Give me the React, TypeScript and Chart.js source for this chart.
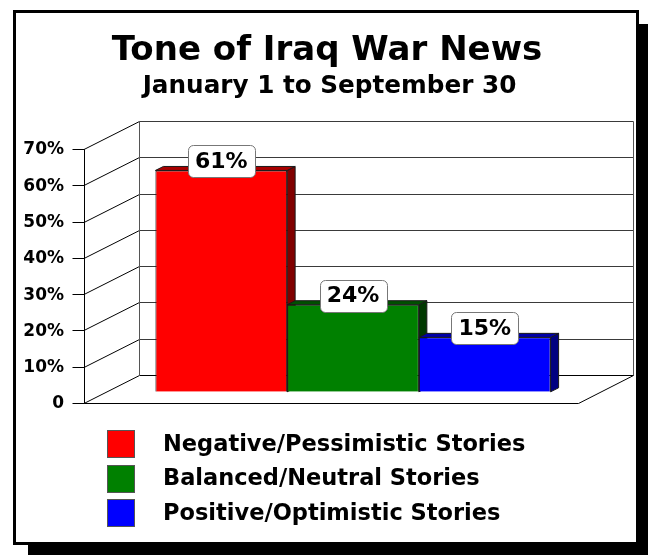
import React, { useEffect, useRef } from 'react';
import { Chart, registerables } from 'chart.js';

Chart.register(...registerables);

// ---- data ----
const categories = ['Tone of coverage'];
const seriesNames = ['Negative/Pessimistic Stories', 'Balanced/Neutral Stories', 'Positive/Optimistic Stories'];
const seriesValues = [61, 24, 15];
const valueLabels = ['61%', '24%', '15%'];
const frontColors = ['#ff0000', '#008000', '#0000ff'];
const sideColors = ['#800000', '#003800', '#000080'];
const topColors = ['#a80000', '#005000', '#0000a8'];
const yTicks = [0, 10, 20, 30, 40, 50, 60, 70];
const yTickLabels = ['0', '10%', '20%', '30%', '40%', '50%', '60%', '70%'];
const titleText = 'Tone of Iraq War News';
const subtitleText = 'January 1 to September 30';

const FONT = '"DejaVu Sans", Verdana, sans-serif';
// 3D geometry
const DX = 55, DY = 28, F = 0.4; // wall depth and bar-plane position
const BDX = 8, BDY = 4; // bar depth

const px = (v: number) => Math.round(v) + 0.5;

const decoPlugin = {
  id: 'deco3d',
  beforeDraw(chart: any) {
    const ctx = chart.ctx as CanvasRenderingContext2D;
    const { left, right } = chart.chartArea;
    const ys = chart.scales.y;
    const W = chart.width, H = chart.height;
    ctx.save();
    ctx.fillStyle = '#ffffff';
    ctx.fillRect(0, 0, W, H);
    // drop shadow
    ctx.fillStyle = '#000000';
    ctx.fillRect(28, 24, W - 28, H - 24);
    // frame
    ctx.fillStyle = '#ffffff';
    ctx.fillRect(13, 10, 626, 535);
    ctx.lineWidth = 3;
    ctx.strokeStyle = '#000000';
    ctx.strokeRect(14.5, 11.5, 623, 532);

    const fx = -F * DX, fy = F * DY;
    const bx = (1 - F) * DX, by = -(1 - F) * DY;
    const y0 = ys.getPixelForValue(yTicks[0]);
    const yMax = ys.getPixelForValue(yTicks[yTicks.length - 1]);

    ctx.lineWidth = 1;
    // back wall grid
    yTicks.forEach((v) => {
      const yy = ys.getPixelForValue(v);
      ctx.strokeStyle = v === 0 ? '#000000' : '#3a3a3a';
      ctx.beginPath();
      ctx.moveTo(px(left + bx), px(yy + by));
      ctx.lineTo(px(right + bx), px(yy + by));
      ctx.stroke();
      // left wall diagonal
      ctx.strokeStyle = '#000000';
      ctx.beginPath();
      ctx.moveTo(left + fx, px(yy + fy));
      ctx.lineTo(px(left + bx), px(yy + by));
      ctx.stroke();
      // tick mark
      ctx.beginPath();
      ctx.moveTo(px(left + fx - 12), px(yy + fy));
      ctx.lineTo(px(left + fx), px(yy + fy));
      ctx.stroke();
    });
    // back wall verticals
    ctx.strokeStyle = '#555555';
    ctx.beginPath();
    ctx.moveTo(px(left + bx), px(y0 + by));
    ctx.lineTo(px(left + bx), px(yMax + by));
    ctx.moveTo(px(right + bx), px(y0 + by));
    ctx.lineTo(px(right + bx), px(yMax + by));
    ctx.stroke();
    // front axis and floor
    ctx.strokeStyle = '#000000';
    ctx.beginPath();
    ctx.moveTo(px(left + fx), px(y0 + fy));
    ctx.lineTo(px(left + fx), px(yMax + fy));
    ctx.moveTo(px(left + fx), px(y0 + fy));
    ctx.lineTo(px(right + fx), px(y0 + fy));
    ctx.lineTo(px(right + bx), px(y0 + by));
    ctx.stroke();

    // y tick labels
    ctx.fillStyle = '#000000';
    ctx.font = `bold 17px ${FONT}`;
    ctx.textAlign = 'right';
    ctx.textBaseline = 'middle';
    yTicks.forEach((v, i) => {
      const yy = ys.getPixelForValue(v);
      ctx.fillText(yTickLabels[i], left + fx - 20, yy + fy + 1);
    });

    // titles
    ctx.textAlign = 'center';
    ctx.textBaseline = 'alphabetic';
    ctx.font = `bold 34px ${FONT}`;
    ctx.fillText(titleText, 327, 60);
    ctx.font = `bold 24.7px ${FONT}`;
    ctx.fillText(subtitleText, 329.5, 93);

    // legend
    ctx.textAlign = 'left';
    ctx.textBaseline = 'middle';
    ctx.font = `bold 22.5px ${FONT}`;
    const rowY = [444, 478.5, 513];
    chart.data.datasets.forEach((ds: any, i: number) => {
      const cy = rowY[i];
      ctx.fillStyle = ds.backgroundColor;
      ctx.fillRect(107, Math.round(cy - 14), 28, 28);
      ctx.strokeStyle = '#555555';
      ctx.strokeRect(107.5, Math.round(cy - 14) + 0.5, 27, 27);
      ctx.fillStyle = '#000000';
      ctx.fillText(ds.label, 163, cy + 1);
    });
    ctx.restore();
  },
  beforeDatasetsDraw(chart: any) {
    const ctx = chart.ctx as CanvasRenderingContext2D;
    ctx.save();
    ctx.lineWidth = 1;
    ctx.strokeStyle = '#1a1a1a';
    chart.data.datasets.forEach((ds: any, i: number) => {
      const el = chart.getDatasetMeta(i).data[0] as any;
      if (!el) return;
      const l = el.x - el.width / 2, r = el.x + el.width / 2;
      const t = el.y, b = el.base;
      // side face
      ctx.fillStyle = sideColors[i];
      ctx.beginPath();
      ctx.moveTo(r, t);
      ctx.lineTo(r + BDX, t - BDY);
      ctx.lineTo(r + BDX, b - BDY);
      ctx.lineTo(r, b);
      ctx.closePath();
      ctx.fill();
      ctx.stroke();
      // top face
      ctx.fillStyle = topColors[i];
      ctx.beginPath();
      ctx.moveTo(l, t);
      ctx.lineTo(l + BDX, t - BDY);
      ctx.lineTo(r + BDX, t - BDY);
      ctx.lineTo(r, t);
      ctx.closePath();
      ctx.fill();
      ctx.stroke();
    });
    ctx.restore();
  },
  afterDatasetsDraw(chart: any) {
    const ctx = chart.ctx as CanvasRenderingContext2D;
    ctx.save();
    ctx.font = `bold 22px ${FONT}`;
    ctx.textAlign = 'center';
    ctx.textBaseline = 'middle';
    chart.data.datasets.forEach((ds: any, i: number) => {
      const el = chart.getDatasetMeta(i).data[0] as any;
      if (!el) return;
      const txt = valueLabels[i];
      const tw = ctx.measureText(txt).width;
      const w = Math.round(tw + 14), h = 32;
      const cx = el.x, cy = el.y - 9;
      const x0 = Math.round(cx - w / 2) + 0.5, y0 = Math.round(cy - h / 2) + 0.5;
      ctx.beginPath();
      ctx.roundRect(x0, y0, w, h, 5);
      ctx.fillStyle = '#ffffff';
      ctx.fill();
      ctx.strokeStyle = '#777777';
      ctx.lineWidth = 1;
      ctx.stroke();
      ctx.fillStyle = '#000000';
      ctx.fillText(txt, cx, cy + 1);
    });
    ctx.restore();
  },
};

export default function App() {
  const ref = useRef<HTMLCanvasElement | null>(null);
  useEffect(() => {
    if (!ref.current) return;
    const barPlaneBottom = 403 - F * DY;
    const chart = new Chart(ref.current, {
      type: 'bar',
      data: {
        labels: categories,
        datasets: seriesNames.map((name, i) => ({
          label: name,
          data: [seriesValues[i]],
          backgroundColor: frontColors[i],
          borderColor: '#1a1a1a',
          borderWidth: 1,
          categoryPercentage: 0.8,
          barPercentage: 1,
        })),
      },
      options: {
        responsive: false,
        animation: false,
        devicePixelRatio: 1,
        layout: {
          padding: { left: 106, right: 48, top: barPlaneBottom - 254, bottom: 555 - barPlaneBottom },
        },
        scales: {
          x: { display: false },
          y: { display: false, min: 0, max: 70, ticks: { stepSize: 10 } },
        },
        plugins: {
          legend: { display: false },
          tooltip: { enabled: false },
          title: { display: false },
        },
      },
      plugins: [decoPlugin],
    });
    return () => chart.destroy();
  }, []);
  return (
    <div style={{ position: 'absolute', left: 0, top: 0, width: 648, height: 555 }}>
      <canvas ref={ref} width={648} height={555} style={{ display: 'block' }} />
    </div>
  );
}
